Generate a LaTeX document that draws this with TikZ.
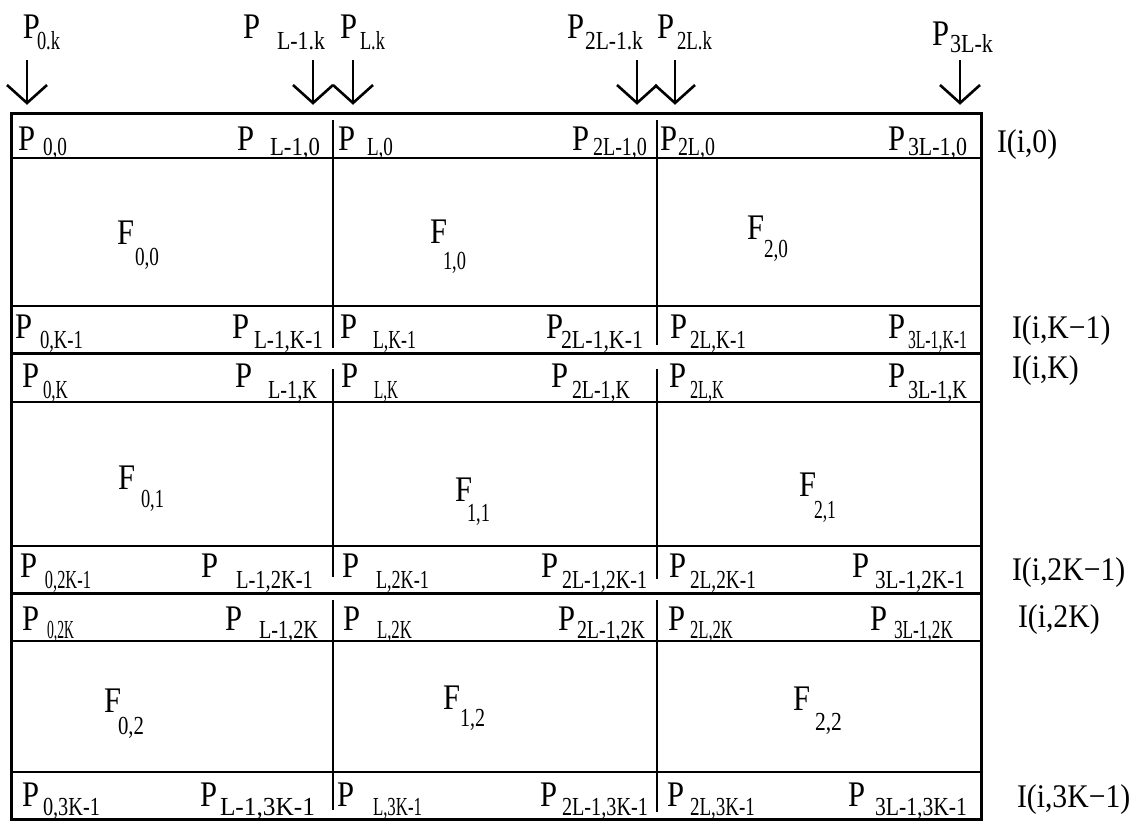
\documentclass[tikz,border=0pt]{standalone}
\usepackage{fontspec}
\usepackage{graphicx}
\usetikzlibrary{calc}
\setmainfont{Liberation Serif}
\newfontfamily\bigf[FakeStretch=0.85]{Liberation Serif}
\newfontfamily\subf[FakeStretch=0.8]{Liberation Serif}
\newfontfamily\ilabf[FakeStretch=0.9]{Liberation Serif}
\newcommand{\subfit}[2]{\resizebox{#1pt}{\height}{\fontsize{26}{26}\subf #2}}
% name, letter, x, y, subscript, sub x, sub width, sub y
\newcommand{\glab}[8]{%
  \node[lab] (#1) at (#3,#4) {\fontsize{36}{36}\bigf #2};
  \node[lab] (#1s) at (#6,#8) {\subfit{#7}{#5}};
}
\begin{document}
\begin{tikzpicture}[x=1pt,y=-1pt,
  lab/.style={anchor=base west,inner sep=0pt,outer sep=0pt},
  ilab/.style={anchor=base west,inner sep=0pt,outer sep=0pt,font=\fontsize{33}{33}\ilabf},
  outer/.style={line width=3pt},
  thickrule/.style={line width=3pt},
  thinrule/.style={line width=1.6pt},
  divider/.style={line width=2.6pt},
  arr/.style={line width=2.6pt,line join=miter}]
\useasboundingbox (0,0) rectangle (1143,822);
\fill[white] (0,0) rectangle (1143,822);

% frame and rules
\draw[outer] (11,113) rectangle (981,819);
\foreach \yy in {158,306,402,546,641,772} {\draw[thinrule] (11,\yy) -- (981,\yy);}
\foreach \yy in {353,593} {\draw[thickrule] (11,\yy) -- (981,\yy);}

% column dividers
\draw[divider] (333,120) -- (333,348);
\draw[divider] (657,120) -- (657,345);
\draw[divider] (333,369) -- (333,577);
\draw[divider] (657,369) -- (657,579);
\draw[divider] (333,600) -- (333,810);
\draw[divider] (657,600) -- (657,812);

% arrows
\foreach \xx in {27,313,353,637,675,960} {
  \coordinate (tail\xx) at (\xx,60);
  \coordinate (tip\xx) at (\xx,103);
  \draw[arr] (tail\xx) -- (tip\xx);
  \draw[arr] ($(tip\xx)+(-20,-18)$) -- (tip\xx) -- ($(tip\xx)+(20,-18)$);
}

% top labels
\glab{t0}{P}{23}{38}{0.k}{37}{23}{49}
\glab{t1}{P}{243}{38}{L-1.k}{277}{48}{49}
\glab{t2}{P}{340}{38}{L.k}{360}{25}{49}
\glab{t3}{P}{567}{38}{2L-1.k}{585}{58}{49}
\glab{t4}{P}{657}{38}{2L.k}{677}{35}{49}
\glab{t5}{P}{932}{45}{3L-k}{950}{43}{52}

% row 0
\glab{a0}{P}{18}{150}{0,0}{43}{24}{155}
\glab{a1}{P}{237}{150}{L-1,0}{270}{50}{155}
\glab{a2}{P}{338}{150}{L,0}{367}{26}{155}
\glab{a3}{P}{572}{150}{2L-1,0}{593}{54}{155}
\glab{a4}{P}{660}{150}{2L,0}{678}{37}{155}
\glab{a5}{P}{888}{150}{3L-1,0}{908}{59}{155}

% row K-1
\glab{b0}{P}{15}{338}{0,K-1}{40}{43}{348}
\glab{b1}{P}{232}{338}{L-1,K-1}{254}{69}{348}
\glab{b2}{P}{340}{338}{L,K-1}{373}{43}{348}
\glab{b3}{P}{546}{338}{2L-1,K-1}{561}{82}{348}
\glab{b4}{P}{670}{338}{2L,K-1}{690}{56}{348}
\glab{b5}{P}{888}{338}{3L-1,K-1}{908}{59}{348}

% row K
\glab{c0}{P}{22}{387}{0,K}{43}{25}{398}
\glab{c1}{P}{235}{387}{L-1,K}{268}{49}{398}
\glab{c2}{P}{341}{387}{L,K}{374}{24}{398}
\glab{c3}{P}{551}{387}{2L-1,K}{572}{58}{398}
\glab{c4}{P}{669}{387}{2L,K}{690}{34}{398}
\glab{c5}{P}{888}{387}{3L-1,K}{908}{59}{398}

% row 2K-1
\glab{d0}{P}{20}{577}{0,2K-1}{45}{46}{588}
\glab{d1}{P}{201}{577}{L-1,2K-1}{236}{77}{588}
\glab{d2}{P}{342}{577}{L,2K-1}{376}{53}{588}
\glab{d3}{P}{541}{577}{2L-1,2K-1}{562}{85}{588}
\glab{d4}{P}{669}{577}{2L,2K-1}{690}{66}{588}
\glab{d5}{P}{852}{577}{3L-1,2K-1}{875}{90}{588}

% row 2K
\glab{e0}{P}{22}{630}{0,2K}{47}{27}{638}
\glab{e1}{P}{225}{630}{L-1,2K}{259}{59}{638}
\glab{e2}{P}{343}{630}{L,2K}{377}{35}{638}
\glab{e3}{P}{558}{630}{2L-1,2K}{577}{68}{638}
\glab{e4}{P}{668}{630}{2L,2K}{690}{43}{638}
\glab{e5}{P}{870}{630}{3L-1,2K}{894}{59}{638}

% row 3K-1
\glab{f0}{P}{22}{806}{0,3K-1}{43}{57}{815}
\glab{f1}{P}{200}{806}{L-1,3K-1}{220}{95}{815}
\glab{f2}{P}{337}{806}{L,3K-1}{373}{49}{815}
\glab{f3}{P}{540}{806}{2L-1,3K-1}{562}{86}{815}
\glab{f4}{P}{667}{806}{2L,3K-1}{690}{65}{815}
\glab{f5}{P}{848}{806}{3L-1,3K-1}{875}{92}{815}

% F labels
\glab{g00}{F}{117}{244}{0,0}{135}{24}{265}
\glab{g10}{F}{430}{243}{1,0}{443}{23}{269}
\glab{g20}{F}{747}{239}{2,0}{764}{24}{257}
\glab{g01}{F}{118}{489}{0,1}{141}{23}{507}
\glab{g11}{F}{455}{501}{1,1}{467}{23}{521}
\glab{g21}{F}{799}{496}{2,1}{814}{22}{518}
\glab{g02}{F}{104}{712}{0,2}{118}{26}{734}
\glab{g12}{F}{443}{709}{1,2}{460}{25}{726}
\glab{g22}{F}{793}{710}{2,2}{815}{27}{730}

% I labels
\node[ilab] (i0) at (997,152) {I(i,0)};
\node[ilab] (i1) at (1012,338) {I(i,K−1)};
\node[ilab] (i2) at (1012,378) {I(i,K)};
\node[ilab] (i3) at (1012,580) {I(i,2K−1)};
\node[ilab] (i4) at (1018,627) {I(i,2K)};
\node[ilab] (i5) at (1017,807) {I(i,3K−1)};
\end{tikzpicture}
\end{document}
